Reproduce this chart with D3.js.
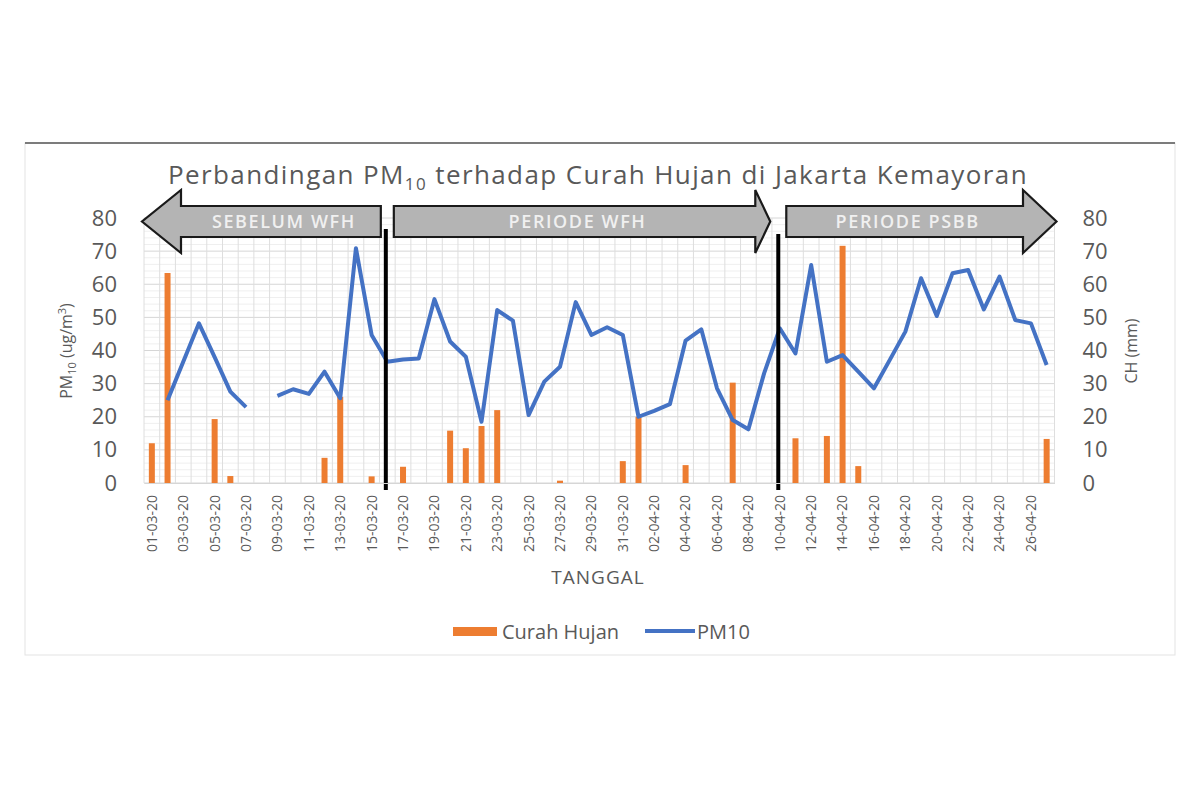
<!DOCTYPE html>
<html>
<head>
<meta charset="utf-8">
<script src="https://cdn.jsdelivr.net/npm/d3@7"></script>
<style>
  body { margin: 0; background: #fff; }
  text { font-family: "Open Sans", sans-serif; fill: #595959; }
</style>
</head>
<body>
<div id="chart"></div>
<script>
// data
const tanggal = [
  "01-03-20","02-03-20","03-03-20","04-03-20","05-03-20","06-03-20","07-03-20","08-03-20","09-03-20","10-03-20",
  "11-03-20","12-03-20","13-03-20","14-03-20","15-03-20","16-03-20","17-03-20","18-03-20","19-03-20","20-03-20",
  "21-03-20","22-03-20","23-03-20","24-03-20","25-03-20","26-03-20","27-03-20","28-03-20","29-03-20","30-03-20",
  "31-03-20","01-04-20","02-04-20","03-04-20","04-04-20","05-04-20","06-04-20","07-04-20","08-04-20","09-04-20",
  "10-04-20","11-04-20","12-04-20","13-04-20","14-04-20","15-04-20","16-04-20","17-04-20","18-04-20","19-04-20",
  "20-04-20","21-04-20","22-04-20","23-04-20","24-04-20","25-04-20","26-04-20","27-04-20"
];
const pm10 = [
  null, 25, 36.6, 48.2, 38, 27.6, 22.9, null, 26.3, 28.3,
  26.9, 33.6, 25.6, 70.9, 44.7, 36.6, 37.3, 37.6, 55.5, 42.7,
  38.1, 18.5, 52.2, 49, 20.5, 30.6, 35.1, 54.6, 44.7, 47,
  44.7, 20, 21.8, 23.8, 43, 46.4, 28.6, 19, 16.2, 33.1,
  46.7, 39.1, 65.8, 36.6, 38.6, 33.6, 28.6, 37.1, 45.7, 61.8,
  50.4, 63.3, 64.3, 52.4, 62.3, 49.2, 48.2, 35.6
];
const curahHujan = [
  12, 63.4, 0, 0, 19.3, 2.1, 0, 0, 0, 0,
  0, 7.6, 26, 0, 2, 0, 4.9, 0, 0, 15.8,
  10.5, 17.2, 22, 0, 0, 0, 0.7, 0, 0, 0,
  6.6, 20, 0, 0, 5.4, 0, 0, 30.3, 0, 0,
  0, 13.5, 0, 14.2, 71.6, 5.1, 0, 0, 0, 0,
  0, 0, 0, 0, 0, 0, 0, 13.3
];
const yTicks = [0, 10, 20, 30, 40, 50, 60, 70, 80];
const periodeLabel = ["SEBELUM WFH", "PERIODE WFH", "PERIODE PSBB"];
const batasPeriode = ["16-03-20", "10-04-20"];

// layout
const width = 1200, height = 800;
const plotL = 144, plotR = 1054.5, plotT = 218, plotB = 483;
const orange = "#ED7D31", blue = "#4472C4";

let svg = d3.select("#chart").append("svg")
  .attr("width", width).attr("height", height);

// frame
svg.append("rect").attr("x", 25).attr("y", 143).attr("width", 1150).attr("height", 512)
  .attr("fill", "none").attr("stroke", "#e3e3e3");
svg.append("line").attr("x1", 25).attr("x2", 1175).attr("y1", 143).attr("y2", 143)
  .attr("stroke", "#555").attr("stroke-width", 1.5);

// scales
let x = d3.scaleBand().domain(tanggal).range([plotL, plotR]);
let y = d3.scaleLinear().domain([0, 80]).range([plotB, plotT]);
const cx = d => x(d) + x.bandwidth() / 2;

// grid
let grid = svg.append("g");
grid.selectAll(".minor").data(d3.range(0, 81, 2)).enter().append("line")
  .attr("x1", plotL).attr("x2", plotR)
  .attr("y1", d => y(d)).attr("y2", d => y(d))
  .attr("stroke", d => d % 10 === 0 ? "#d6d6d6" : "#efefef")
  .attr("stroke-width", 1);
grid.selectAll(".vert").data(tanggal.concat([null])).enter().append("line")
  .attr("x1", (d, i) => plotL + i * x.step()).attr("x2", (d, i) => plotL + i * x.step())
  .attr("y1", plotT).attr("y2", plotB)
  .attr("stroke", "#dedede").attr("stroke-width", 1);

// bars
const barW = 6;
svg.append("g").selectAll("rect").data(curahHujan).enter().append("rect")
  .attr("x", (d, i) => cx(tanggal[i]) - barW / 2)
  .attr("y", d => y(d))
  .attr("width", barW)
  .attr("height", d => plotB - y(d))
  .attr("fill", orange);

// line
let line = d3.line()
  .defined(d => d != null)
  .x((d, i) => cx(tanggal[i]))
  .y(d => y(d));
svg.append("path").datum(pm10)
  .attr("d", line)
  .attr("fill", "none")
  .attr("stroke", blue)
  .attr("stroke-width", 4)
  .attr("stroke-linejoin", "round");

// period separators
const sepX = batasPeriode.map(d => cx(d) - 1.5);
svg.append("g").selectAll("line").data(sepX).enter().append("line")
  .attr("x1", d => d).attr("x2", d => d)
  .attr("y1", (d, i) => i === 0 ? 229 : 234).attr("y2", 490)
  .attr("stroke", "#000").attr("stroke-width", 4);

// arrows
const bodyTop = 206, bodyBot = 237, headTop = 190, headBot = 253, midY = 221.5;
let arrows = [
  { x0: 181, x1: sepX[0] - 5, tip: plotL - 2, dir: -1 },
  { x0: sepX[0] + 8, x1: sepX[1] - 23, tip: sepX[1] - 8, dir: 1 },
  { x0: sepX[1] + 8, x1: 1023, tip: plotR + 2, dir: 1 }
];
arrows.forEach((a, i) => {
  let pts;
  if (a.dir < 0) {
    pts = [[a.x1, bodyTop], [a.x0, bodyTop], [a.x0, headTop], [a.tip, midY],
           [a.x0, headBot], [a.x0, bodyBot], [a.x1, bodyBot]];
  } else {
    pts = [[a.x0, bodyTop], [a.x1, bodyTop], [a.x1, headTop], [a.tip, midY],
           [a.x1, headBot], [a.x1, bodyBot], [a.x0, bodyBot]];
  }
  svg.append("polygon")
    .attr("points", pts.map(p => p.join(",")).join(" "))
    .attr("fill", "#b4b4b4").attr("stroke", "#1a1a1a").attr("stroke-width", 2.2)
    .attr("stroke-linejoin", "miter");
  svg.append("text")
    .attr("x", (a.x0 + a.x1) / 2 + 3)
    .attr("y", midY + 6.5)
    .attr("text-anchor", "middle")
    .style("font-size", "18px")
    .style("font-weight", "600")
    .style("letter-spacing", "1.6px")
    .style("fill", "#f0f0f0")
    .text(periodeLabel[i]);
});

// title
let title = svg.append("text").attr("x", 598).attr("y", 184)
  .attr("text-anchor", "middle").style("font-size", "26px").style("letter-spacing", "1.4px");
title.append("tspan").text("Perbandingan PM");
title.append("tspan").attr("dy", 6).style("font-size", "17px").text("10");
title.append("tspan").attr("dy", -6).text(" terhadap Curah Hujan di Jakarta Kemayoran");

// y axes
let yAxisL = d3.axisLeft(y).tickValues(yTicks).tickSize(0).tickPadding(27);
let gL = svg.append("g").attr("transform", `translate(${plotL},0)`).call(yAxisL);
let yAxisR = d3.axisRight(y).tickValues(yTicks).tickSize(0).tickPadding(28);
let gR = svg.append("g").attr("transform", `translate(${plotR},0)`).call(yAxisR);
[gL, gR].forEach(g => {
  g.select(".domain").remove();
  g.selectAll("text").style("font-size", "22px").style("font-family", "'Open Sans', sans-serif").attr("fill", "#595959");
});

// x axis
let xAxis = d3.axisBottom(x).tickValues(tanggal.filter((d, i) => i % 2 === 0)).tickSize(0);
let gX = svg.append("g").attr("transform", `translate(0,${plotB})`).call(xAxis);
gX.select(".domain").attr("stroke", "#d6d6d6");
gX.selectAll("text")
  .attr("transform", "rotate(-90)")
  .attr("x", -12).attr("y", 0).attr("dy", "0.35em")
  .attr("text-anchor", "end")
  .attr("fill", "#6a6a6a")
  .style("font-size", "14px").style("font-family", "'Open Sans', sans-serif");

// axis titles
svg.append("text").attr("x", 598).attr("y", 584).attr("text-anchor", "middle")
  .style("font-size", "19px").style("letter-spacing", "1px").text("TANGGAL");
let yl = svg.append("text").attr("transform", "translate(72,351) rotate(-90)")
  .attr("text-anchor", "middle").style("font-size", "16px");
yl.append("tspan").text("PM");
yl.append("tspan").attr("dy", 4).style("font-size", "11px").text("10");
yl.append("tspan").attr("dy", -4).text(" (ug/m");
yl.append("tspan").attr("dy", -6).style("font-size", "11px").text("3");
yl.append("tspan").attr("dy", 6).text(")");
svg.append("text").attr("transform", "translate(1137,351) rotate(-90)")
  .attr("text-anchor", "middle").style("font-size", "16px").text("CH (mm)");

// legend
let lg = svg.append("g");
lg.append("rect").attr("x", 453).attr("y", 627).attr("width", 44).attr("height", 9).attr("fill", orange);
lg.append("text").attr("x", 502).attr("y", 638.5).style("font-size", "20px").text("Curah Hujan");
lg.append("line").attr("x1", 645).attr("x2", 695).attr("y1", 631).attr("y2", 631)
  .attr("stroke", blue).attr("stroke-width", 4);
lg.append("text").attr("x", 697).attr("y", 638.5).style("font-size", "20px").text("PM10");
</script>
</body>
</html>
